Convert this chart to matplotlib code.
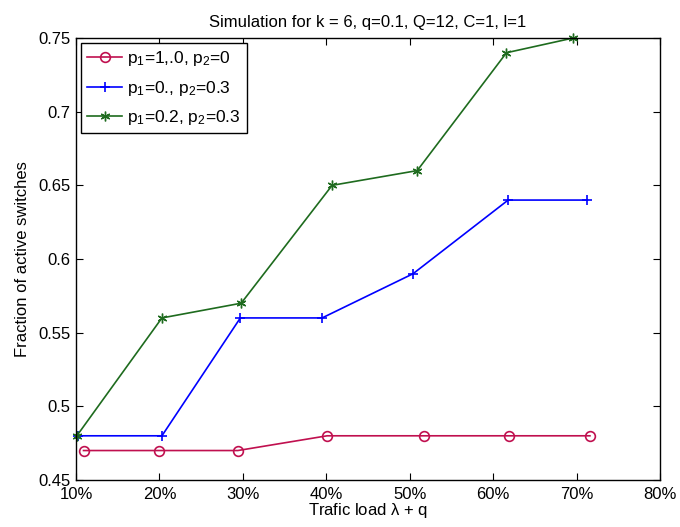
import matplotlib
matplotlib.use("Agg")
import matplotlib.pyplot as plt
from matplotlib.ticker import FuncFormatter

plt.rcParams['font.family'] = ['Liberation Sans', 'DejaVu Sans']
plt.rcParams['mathtext.fontset'] = 'custom'
plt.rcParams['mathtext.rm'] = 'Liberation Sans'
plt.rcParams['mathtext.it'] = 'Liberation Sans'

x_red = [10.9, 20.0, 29.4, 40.1, 51.7, 61.95, 71.6]
y_red = [0.47, 0.47, 0.47, 0.48, 0.48, 0.48, 0.48]
x_blue = [10.2, 20.3, 29.7, 39.5, 50.4, 61.8, 71.3]
y_blue = [0.48, 0.48, 0.56, 0.56, 0.59, 0.64, 0.64]
x_green = [10.1, 20.3, 29.8, 40.7, 50.9, 61.6, 69.6]
y_green = [0.48, 0.56, 0.57, 0.65, 0.66, 0.74, 0.75]
xticks = [10, 20, 30, 40, 50, 60, 70, 80]
yticks = [0.45, 0.5, 0.55, 0.6, 0.65, 0.7, 0.75]
labels = ['p$_1$=1,.0, p$_2$=0', 'p$_1$=0., p$_2$=0.3', 'p$_1$=0.2, p$_2$=0.3']

fig = plt.figure(figsize=(6.8, 5.27), dpi=100)
ax = fig.add_axes([76/680, 1-480/527, (660-76)/680, (480-38)/527])

ax.plot(x_red, y_red, color='#c0104f', marker='o', markersize=7, markerfacecolor='none',
        markeredgewidth=1.2, linewidth=1.2, label=labels[0], clip_on=False)
ax.plot(x_blue, y_blue, color='#0000ff', marker='+', markersize=7, markeredgewidth=1.2,
        linewidth=1.2, label=labels[1], clip_on=False)
ax.plot(x_green, y_green, color='#1e6b1e', marker=(6, 2, 0), markersize=7, markeredgewidth=1.0,
        linewidth=1.2, label=labels[2], clip_on=False)

ax.set_xlim(10, 80)
ax.set_ylim(0.45, 0.75)
ax.set_xticks(xticks)
ax.set_yticks(yticks)
ax.xaxis.set_major_formatter(FuncFormatter(lambda v, p: f"{int(round(v))}%"))
ax.yaxis.set_major_formatter(FuncFormatter(lambda v, p: f"{v:g}"))
ax.tick_params(direction='in', top=True, right=True, labelsize=12, length=5, width=0.8)
ax.tick_params(axis='x', pad=5)
ax.tick_params(axis='y', pad=4)
for s in ax.spines.values():
    s.set_linewidth(1.0)

ax.set_xlabel('Trafic load $\\lambda$ + q', fontsize=12, labelpad=-1)
ax.set_ylabel('Fraction of active switches', fontsize=12, labelpad=6)
ax.set_title('Simulation for k = 6, q=0.1, Q=12, C=1, l=1', fontsize=12, pad=8)

leg = ax.legend(loc='upper left', fontsize=12.5, fancybox=False, edgecolor='black',
                framealpha=1, borderaxespad=0.3, handlelength=2.0, handletextpad=0.3,
                labelspacing=0.6, borderpad=0.35)
leg.get_frame().set_linewidth(1.0)
leg.set_zorder(5)

fig.savefig('out.png', dpi=100)
